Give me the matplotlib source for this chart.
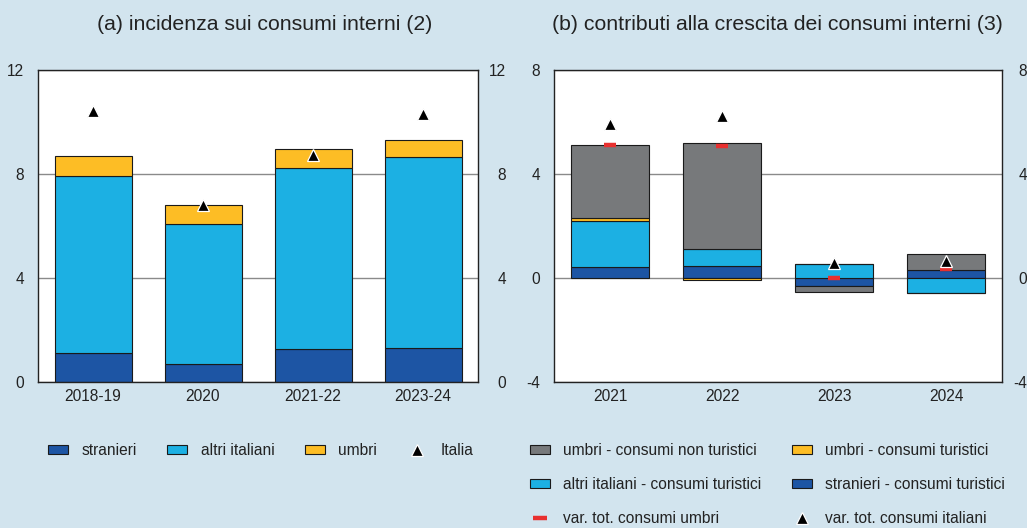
import numpy as np
import matplotlib
matplotlib.use("Agg")
import matplotlib.pyplot as plt
from matplotlib.patches import Patch
from matplotlib.lines import Line2D
from matplotlib.transforms import ScaledTranslation

plt.rcParams["font.family"] = ["Liberation Sans", "DejaVu Sans"]
plt.rcParams["axes.unicode_minus"] = False

# --- Daten --------------------------------------------------------------------
# (a) incidenza sui consumi interni
cat_a = ["2018-19", "2020", "2021-22", "2023-24"]
stranieri_a = [1.10, 0.68, 1.25, 1.29]
altri_a = [6.81, 5.39, 6.97, 7.35]
umbri_a = [0.78, 0.74, 0.72, 0.64]
italia_a = [10.4, 6.8, 8.7, 10.3]

# (b) contributi alla crescita dei consumi interni
cat_b = ["2021", "2022", "2023", "2024"]
stranieri_b = [0.42, 0.47, -0.30, 0.29]
altri_b = [1.77, 0.63, 0.55, -0.58]
umbri_tur_b = [0.10, -0.08, 0.0, -0.02]
umbri_non_b = [2.82, 4.07, -0.25, 0.64]
var_umbri_b = [5.10, 5.07, 0.01, 0.35]
var_italia_b = [5.91, 6.20, 0.56, 0.65]

# --- Farben -------------------------------------------------------------------
BG = "#d2e4ee"
C_STR = "#1d55a4"
C_ALT = "#1cb0e3"
C_UMB = "#fdbd25"
C_GRY = "#77797b"
C_RED = "#e8302f"
EDGE = "#1a1a1a"
TXT = "#222222"

fig = plt.figure(figsize=(10.27, 5.28), dpi=100, facecolor=BG)
W, H = 1027, 528

def px_axes(x0, x1, y0, y1):
    return fig.add_axes([x0 / W, 1 - y1 / H, (x1 - x0) / W, (y1 - y0) / H])

ax1 = px_axes(38, 478, 69.5, 382)
ax2 = px_axes(554, 1002, 69.5, 382)

bar_kw = dict(width=0.7, edgecolor=EDGE, linewidth=0.8, zorder=2)
tri_kw = dict(ls="none", marker="^", ms=9, mfc="black", mec="white", mew=0.9)

# --- (a) ---------------------------------------------------------------------
xa = np.arange(len(cat_a))
s = np.array(stranieri_a)
a = np.array(altri_a)
u = np.array(umbri_a)
ax1.bar(xa, s, color=C_STR, **bar_kw)
ax1.bar(xa, a, bottom=s, color=C_ALT, **bar_kw)
ax1.bar(xa, u, bottom=s + a, color=C_UMB, **bar_kw)
ax1.plot(xa, italia_a, zorder=4, **tri_kw)
ax1.set_ylim(0, 12)
ax1.set_yticks([0, 4, 8, 12])

# --- (b) ---------------------------------------------------------------------
xb = np.arange(len(cat_b))
pos_bottom = np.zeros(len(cat_b))
neg_bottom = np.zeros(len(cat_b))
for vals, col in [(stranieri_b, C_STR), (altri_b, C_ALT),
                  (umbri_tur_b, C_UMB), (umbri_non_b, C_GRY)]:
    v = np.array(vals)
    bottom = np.where(v >= 0, pos_bottom, neg_bottom)
    ax2.bar(xb, v, bottom=bottom, color=col, **bar_kw)
    pos_bottom = pos_bottom + np.where(v > 0, v, 0)
    neg_bottom = neg_bottom + np.where(v < 0, v, 0)
ax2.plot(xb, var_umbri_b, ls="none", marker="_", ms=8, mew=3.2,
         color=C_RED, zorder=3)
ax2.plot(xb, var_italia_b, zorder=4, **tri_kw)
ax2.set_ylim(-4, 8)
ax2.set_yticks([-4, 0, 4, 8])

# --- Achsen-Styling -----------------------------------------------------------
for ax, cats, rpad in [(ax1, cat_a, 20), (ax2, cat_b, 18)]:
    ax.set_facecolor("white")
    ax.set_xlim(-0.5, 3.5)
    ax.set_xticks(np.arange(len(cats)))
    ax.set_xticklabels(cats)
    ax.yaxis.grid(True, color="#8a8a8a", linewidth=1.0)
    ax.set_axisbelow(True)
    ax.tick_params(axis="x", length=0, pad=5, labelsize=11.2, colors=TXT)
    ax.tick_params(axis="y", length=0, pad=10, labelsize=11.2, colors=TXT,
                   right=True, labelright=True)
    for sp in ax.spines.values():
        sp.set_linewidth(1.0)
        sp.set_color(TXT)
    # rechte Tick-Labels rechtsbündig
    off = ScaledTranslation(rpad / 72, 0, fig.dpi_scale_trans)
    for t in ax.yaxis.get_major_ticks():
        t.label2.set_horizontalalignment("right")
        t.label2.set_transform(ax.get_yaxis_transform(which="tick2") + off)

# --- Titel --------------------------------------------------------------------
fig.text(265 / W, 1 - 25 / H, "(a) incidenza sui consumi interni (2)",
         ha="center", va="center", fontsize=15.3, color=TXT)
fig.text(777 / W, 1 - 25 / H, "(b) contributi alla crescita dei consumi interni (3)",
         ha="center", va="center", fontsize=15.3, color=TXT)

# --- Legenden -----------------------------------------------------------------
leg_kw = dict(frameon=False, fontsize=11.2, borderpad=0, handlelength=1.3,
              handleheight=0.45, handletextpad=0.85, columnspacing=1.95,
              borderaxespad=0, labelcolor=TXT)
h_a = [Patch(facecolor=C_STR, edgecolor=EDGE, lw=0.8, label="stranieri"),
       Patch(facecolor=C_ALT, edgecolor=EDGE, lw=0.8, label="altri italiani"),
       Patch(facecolor=C_UMB, edgecolor=EDGE, lw=0.8, label="umbri"),
       Line2D([], [], label="Italia", **tri_kw)]
fig.legend(handles=h_a, ncol=4, loc="upper left",
           bbox_to_anchor=(48 / W, 1 - 443 / H), **leg_kw)

h_b = [Patch(facecolor=C_GRY, edgecolor=EDGE, lw=0.8, label="umbri - consumi non turistici"),
       Patch(facecolor=C_ALT, edgecolor=EDGE, lw=0.8, label="altri italiani - consumi turistici"),
       Line2D([], [], ls="none", marker="_", ms=10, mew=3.2, color=C_RED,
              label="var. tot. consumi umbri"),
       Patch(facecolor=C_UMB, edgecolor=EDGE, lw=0.8, label="umbri - consumi turistici"),
       Patch(facecolor=C_STR, edgecolor=EDGE, lw=0.8, label="stranieri - consumi turistici"),
       Line2D([], [], label="var. tot. consumi italiani", **tri_kw)]
fig.legend(handles=h_b, ncol=2, loc="upper left", labelspacing=1.22,
           bbox_to_anchor=(530 / W, 1 - 443 / H), **leg_kw)

fig.savefig("out.png", dpi=100, facecolor=BG)
plt.close(fig)
